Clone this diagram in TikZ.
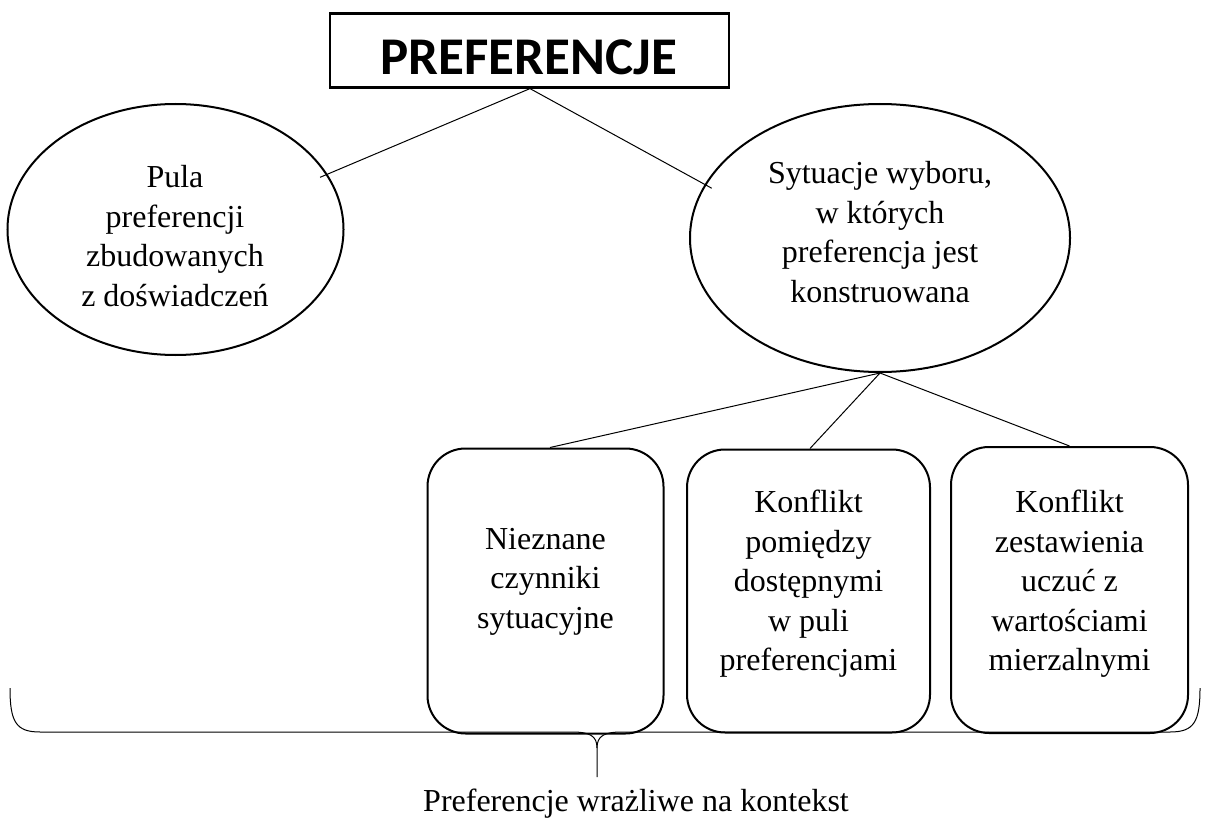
\documentclass[tikz,border=0pt]{standalone}
\usepackage{fontspec}
\setmainfont{Liberation Serif}
\newfontfamily\titlefont{Carlito}
\usetikzlibrary{shapes.geometric}
\begin{document}
\begin{tikzpicture}[x=1pt,y=-1pt,
  txt/.style={align=center,font=\fontsize{32}{39.5}\selectfont,inner sep=0pt},
  oval/.style={draw,line width=2pt,ellipse,inner sep=0pt},
  rbox/.style={draw,line width=2pt,rounded corners=38pt,inner sep=0pt},
  conn/.style={line width=1pt}]
\useasboundingbox (0,0) rectangle (1207,821);
% title
\node[draw,line width=2.2pt,minimum width=399pt,minimum height=74pt,inner sep=0pt] (title) at (529.5,50.5) {};
\node[anchor=base,inner sep=0pt,font=\titlefont\bfseries\fontsize{53}{58}\selectfont] (titletext) at (529,75) {PREFERENCJE};
% ellipses
\node[oval,minimum width=336pt,minimum height=251pt] (left) at (175.5,229.5) {};
\node[txt] (lefttext) at (175,236) {Pula\\preferencji\\zbudowanych\\z doświadczeń};
\node[oval,minimum width=380pt,minimum height=268pt] (right) at (880,238) {};
\node[txt] (righttext) at (880,232) {Sytuacje wyboru,\\w których\\preferencja jest\\konstruowana};
% boxes
\node[rbox,minimum width=236pt,minimum height=285pt] (b1) at (545.5,591) {};
\node[txt] (b1text) at (545.5,581.5) {Nieznane\\czynniki\\sytuacyjne};
\node[rbox,minimum width=243pt,minimum height=283pt] (b2) at (808.5,591) {};
\node[txt] (b2text) at (808.5,584) {Konflikt\\pomiędzy\\dostępnymi\\w puli\\preferencjami};
\node[rbox,minimum width=237pt,minimum height=286pt] (b3) at (1069.5,590) {};
\node[txt] (b3text) at (1069.5,584) {Konflikt\\zestawienia\\uczuć z\\wartościami\\mierzalnymi};
% connectors
\coordinate (tapex) at ([xshift=0.5pt]title.south);
\draw[conn,shorten >=-8pt] (tapex) -- (left.20);
\draw[conn,shorten >=-8pt] (tapex) -- (right.163);
\draw[conn] (right.south) -- ([xshift=4.5pt]b1.north);
\draw[conn] (right.south) -- ([xshift=1.5pt]b2.north);
\draw[conn] (right.south) -- (b3.north);
% brace
\coordinate (bl) at (10,688);
\coordinate (br) at (1200,688);
\coordinate (tip) at (597,777);
\coordinate (cusp) at (597,748);
\draw[line width=1pt] (bl) .. controls (10,722) and (16,732) .. (40,732) -- (572,732)
  .. controls (590,732) and (597,736) .. (cusp) -- (tip);
\draw[line width=1pt] (cusp) .. controls (597,736) and (604,732) .. (622,732) -- (1170,732)
  .. controls (1194,732) and (1200,722) .. (br);
% bottom label
\node[anchor=base,font=\fontsize{32}{38}\selectfont,inner sep=0pt] (label) at (636,811) {Preferencje wrażliwe na kontekst};
\end{tikzpicture}
\end{document}
